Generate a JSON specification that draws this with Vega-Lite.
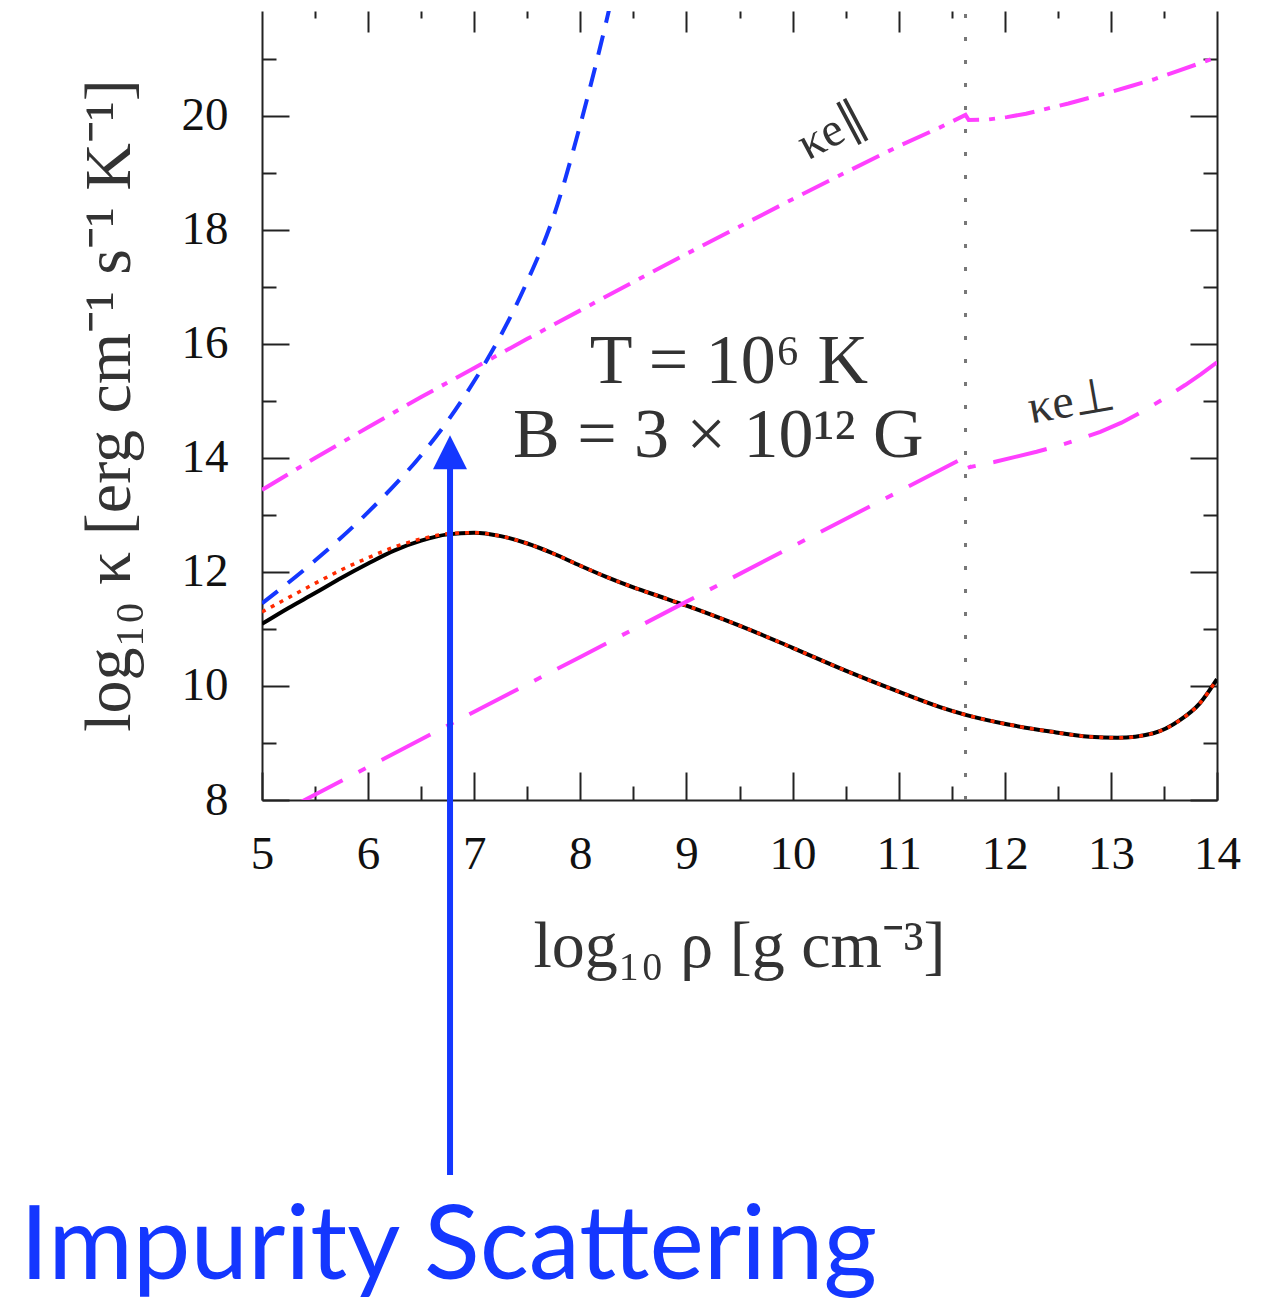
{
  "$schema": "https://vega.github.io/schema/vega-lite/v6.json",
  "width": 955,
  "height": 789,
  "autosize": "none",
  "padding": {"left": 262, "top": 11, "right": 54, "bottom": 504},
  "background": "white",
  "config": {
    "view": {"stroke": null},
    "axis": {"grid": false, "domainColor": "#222", "domainWidth": 2, "tickColor": "#222", "tickWidth": 2, "labelFont": "Liberation Serif", "titleFont": "Liberation Serif", "labelColor": "#111", "titleColor": "#333", "titleFontWeight": "normal"}
  },
  "datasets": {
    "total": [
      {"x": 5.0, "y": 11.09}, {"x": 5.25, "y": 11.37}, {"x": 5.5, "y": 11.63}, {"x": 5.75, "y": 11.9},
      {"x": 6.0, "y": 12.15}, {"x": 6.25, "y": 12.38}, {"x": 6.5, "y": 12.55}, {"x": 6.75, "y": 12.66},
      {"x": 7.0, "y": 12.69}, {"x": 7.25, "y": 12.63}, {"x": 7.5, "y": 12.5}, {"x": 7.75, "y": 12.32},
      {"x": 8.0, "y": 12.11}, {"x": 8.25, "y": 11.91}, {"x": 8.5, "y": 11.73}, {"x": 8.75, "y": 11.57},
      {"x": 9.0, "y": 11.41}, {"x": 9.25, "y": 11.24}, {"x": 9.5, "y": 11.06}, {"x": 10.0, "y": 10.67},
      {"x": 10.5, "y": 10.27}, {"x": 11.0, "y": 9.9}, {"x": 11.39, "y": 9.63}, {"x": 11.64, "y": 9.49},
      {"x": 12.02, "y": 9.33}, {"x": 12.43, "y": 9.2}, {"x": 12.8, "y": 9.11}, {"x": 13.06, "y": 9.09},
      {"x": 13.4, "y": 9.17}, {"x": 13.65, "y": 9.4}, {"x": 13.84, "y": 9.7}, {"x": 14.0, "y": 10.12}
    ],
    "red": [
      {"x": 5.0, "y": 11.3}, {"x": 5.25, "y": 11.55}, {"x": 5.5, "y": 11.8}, {"x": 5.75, "y": 12.04},
      {"x": 6.0, "y": 12.25}, {"x": 6.25, "y": 12.44}, {"x": 6.5, "y": 12.58}, {"x": 6.75, "y": 12.67},
      {"x": 7.0, "y": 12.69}, {"x": 7.25, "y": 12.63}, {"x": 7.5, "y": 12.5}, {"x": 7.75, "y": 12.32},
      {"x": 8.0, "y": 12.11}, {"x": 8.25, "y": 11.91}, {"x": 8.5, "y": 11.73}, {"x": 8.75, "y": 11.57},
      {"x": 9.0, "y": 11.41}, {"x": 9.25, "y": 11.24}, {"x": 9.5, "y": 11.06}, {"x": 10.0, "y": 10.67},
      {"x": 10.5, "y": 10.27}, {"x": 11.0, "y": 9.9}, {"x": 11.39, "y": 9.63}, {"x": 11.64, "y": 9.49},
      {"x": 12.02, "y": 9.33}, {"x": 12.43, "y": 9.2}, {"x": 12.8, "y": 9.11}, {"x": 13.06, "y": 9.09},
      {"x": 13.4, "y": 9.17}, {"x": 13.65, "y": 9.4}, {"x": 13.84, "y": 9.7}, {"x": 14.0, "y": 10.12}
    ],
    "blue": [
      {"x": 5.0, "y": 11.45}, {"x": 5.5, "y": 12.2}, {"x": 6.0, "y": 13.05}, {"x": 6.5, "y": 14.05},
      {"x": 6.75, "y": 14.65}, {"x": 7.0, "y": 15.35}, {"x": 7.25, "y": 16.15}, {"x": 7.5, "y": 17.1},
      {"x": 7.75, "y": 18.25}, {"x": 8.0, "y": 19.85}, {"x": 8.25, "y": 21.7}, {"x": 8.3, "y": 22.1}
    ],
    "kpar": [
      {"x": 5.0, "y": 13.44}, {"x": 5.5, "y": 14.0}, {"x": 6.0, "y": 14.54}, {"x": 6.5, "y": 15.07},
      {"x": 7.0, "y": 15.58}, {"x": 7.5, "y": 16.09}, {"x": 8.0, "y": 16.59}, {"x": 8.5, "y": 17.09},
      {"x": 9.0, "y": 17.58}, {"x": 9.5, "y": 18.06}, {"x": 10.0, "y": 18.54}, {"x": 10.5, "y": 19.01},
      {"x": 11.0, "y": 19.47}, {"x": 11.39, "y": 19.8}, {"x": 11.63, "y": 20.02}, {"x": 11.66, "y": 19.93},
      {"x": 11.85, "y": 19.94}, {"x": 12.02, "y": 19.98}, {"x": 12.2, "y": 20.04}, {"x": 12.4, "y": 20.13},
      {"x": 12.6, "y": 20.22}, {"x": 12.8, "y": 20.32}, {"x": 13.0, "y": 20.42}, {"x": 13.2, "y": 20.53},
      {"x": 13.4, "y": 20.64}, {"x": 13.6, "y": 20.77}, {"x": 13.8, "y": 20.9}, {"x": 14.0, "y": 21.03}
    ],
    "kperp": [
      {"x": 5.3, "y": 7.9}, {"x": 6.0, "y": 8.58}, {"x": 7.0, "y": 9.55}, {"x": 8.0, "y": 10.51},
      {"x": 9.0, "y": 11.48}, {"x": 10.0, "y": 12.45}, {"x": 11.0, "y": 13.41}, {"x": 11.63, "y": 14.02},
      {"x": 11.67, "y": 13.84}, {"x": 11.9, "y": 13.93}, {"x": 12.1, "y": 14.02}, {"x": 12.3, "y": 14.11},
      {"x": 12.5, "y": 14.21}, {"x": 12.7, "y": 14.33}, {"x": 12.9, "y": 14.46}, {"x": 13.1, "y": 14.62},
      {"x": 13.3, "y": 14.82}, {"x": 13.5, "y": 15.04}, {"x": 13.7, "y": 15.28}, {"x": 13.85, "y": 15.47},
      {"x": 14.0, "y": 15.68}
    ]
  },
  "resolve": {"axis": {"x": "independent", "y": "independent"}},
  "layer": [
    {
      "data": {"name": "total"},
      "mark": {"type": "line", "color": "#000", "strokeWidth": 4, "clip": true, "interpolate": "monotone"},
      "encoding": {
        "x": {"field": "x", "type": "quantitative", "scale": {"domain": [5, 14], "nice": false, "zero": false},
          "axis": {"orient": "bottom", "values": [5, 6, 7, 8, 9, 10, 11, 12, 13, 14], "ticks": false, "tickSize": 0, "domain": true, "labelFontSize": 47, "labelPadding": 31, "labelFlush": false, "title": "log₁₀ ρ [g cm⁻³]", "titleFontSize": 66, "titleX": 477, "titleY": 166, "titleAlign": "center", "titleBaseline": "alphabetic"}},
        "y": {"field": "y", "type": "quantitative", "scale": {"domain": [8, 21.842], "nice": false, "zero": false},
          "axis": {"orient": "left", "values": [8, 10, 12, 14, 16, 18, 20], "ticks": false, "tickSize": 0, "domain": true, "labelFontSize": 47, "labelPadding": 34, "labelFlush": false, "title": "log₁₀ κ [erg cm⁻¹ s⁻¹ K⁻¹]", "titleFontSize": 66, "titleX": -133, "titleY": 394, "titleAngle": -90, "titleAlign": "center", "titleBaseline": "alphabetic"}}
      }
    },
    {
      "data": {"name": "red"},
      "mark": {"type": "line", "color": "#ff2a00", "strokeWidth": 3.5, "strokeDash": [4, 6], "clip": true, "interpolate": "monotone"},
      "encoding": {
        "x": {"field": "x", "type": "quantitative", "scale": {"domain": [5, 14], "nice": false, "zero": false},
          "axis": {"orient": "bottom", "values": [5, 6, 7, 8, 9, 10, 11, 12, 13, 14], "labels": false, "domain": false, "tickSize": -28, "title": null}},
        "y": {"field": "y", "type": "quantitative", "scale": {"domain": [8, 21.842], "nice": false, "zero": false},
          "axis": {"orient": "left", "values": [8, 10, 12, 14, 16, 18, 20], "labels": false, "domain": false, "tickSize": -27, "title": null}}
      }
    },
    {
      "data": {"name": "blue"},
      "mark": {"type": "line", "color": "#1437ff", "strokeWidth": 4, "strokeDash": [20, 13], "clip": true, "interpolate": "monotone"},
      "encoding": {
        "x": {"field": "x", "type": "quantitative", "scale": {"domain": [5, 14], "nice": false, "zero": false},
          "axis": {"orient": "bottom", "values": [5.5, 6.5, 7.5, 8.5, 9.5, 10.5, 11.5, 12.5, 13.5], "labels": false, "domain": false, "tickSize": -14, "title": null}},
        "y": {"field": "y", "type": "quantitative", "scale": {"domain": [8, 21.842], "nice": false, "zero": false},
          "axis": {"orient": "left", "values": [9, 11, 13, 15, 17, 19, 21], "labels": false, "domain": false, "tickSize": -14, "title": null}}
      }
    },
    {
      "data": {"name": "kpar"},
      "mark": {"type": "line", "color": "#ff40ff", "strokeWidth": 4, "strokeDash": [30, 10, 6, 10], "clip": true},
      "encoding": {
        "x": {"field": "x", "type": "quantitative", "scale": {"domain": [5, 14], "nice": false, "zero": false},
          "axis": {"orient": "top", "values": [6, 7, 8, 9, 10, 11, 12, 13], "labels": false, "domain": false, "tickSize": -21, "title": null}},
        "y": {"field": "y", "type": "quantitative", "scale": {"domain": [8, 21.842], "nice": false, "zero": false},
          "axis": {"orient": "right", "values": [8, 10, 12, 14, 16, 18, 20], "labels": false, "domain": true, "tickSize": -27, "title": null}}
      }
    },
    {
      "data": {"name": "kperp"},
      "mark": {"type": "line", "color": "#ff40ff", "strokeWidth": 4, "strokeDash": [55, 18, 8, 18], "clip": true},
      "encoding": {
        "x": {"field": "x", "type": "quantitative", "scale": {"domain": [5, 14], "nice": false, "zero": false},
          "axis": {"orient": "top", "values": [5.5, 6.5, 7.5, 8.5, 9.5, 10.5, 11.5, 12.5, 13.5], "labels": false, "domain": false, "tickSize": -7, "title": null}},
        "y": {"field": "y", "type": "quantitative", "scale": {"domain": [8, 21.842], "nice": false, "zero": false},
          "axis": {"orient": "right", "values": [9, 11, 13, 15, 17, 19, 21], "labels": false, "domain": false, "tickSize": -14, "title": null}}
      }
    },
    {
      "data": {"values": [{"x": 11.63, "y": 8, "y2": 21.842}]},
      "mark": {"type": "rule", "color": "#777", "strokeWidth": 3, "strokeDash": [4, 19]},
      "encoding": {
        "x": {"field": "x", "type": "quantitative", "axis": null},
        "y": {"field": "y", "type": "quantitative", "axis": null},
        "y2": {"field": "y2"}
      }
    },
    {
      "data": {"values": [
        {"x": 9.40, "y": 15.32, "t": "T = 10⁶ K"},
        {"x": 9.30, "y": 14.02, "t": "B = 3 × 10¹² G"}
      ]},
      "mark": {"type": "text", "font": "Liberation Serif", "fontSize": 70, "color": "#333", "align": "center", "baseline": "alphabetic"},
      "encoding": {
        "x": {"field": "x", "type": "quantitative", "axis": null},
        "y": {"field": "y", "type": "quantitative", "axis": null},
        "text": {"field": "t"}
      }
    },
    {
      "data": {"values": [{"x": 10.37, "y": 19.72, "t": "κe∥"}]},
      "mark": {"type": "text", "font": "Liberation Serif", "fontSize": 48, "color": "#333", "align": "center", "baseline": "middle", "angle": -28},
      "encoding": {
        "x": {"field": "x", "type": "quantitative", "axis": null},
        "y": {"field": "y", "type": "quantitative", "axis": null},
        "text": {"field": "t"}
      }
    },
    {
      "data": {"values": [{"x": 12.63, "y": 14.98, "t": "κe⊥"}]},
      "mark": {"type": "text", "font": "Liberation Serif", "fontSize": 48, "color": "#333", "align": "center", "baseline": "middle", "angle": -10},
      "encoding": {
        "x": {"field": "x", "type": "quantitative", "axis": null},
        "y": {"field": "y", "type": "quantitative", "axis": null},
        "text": {"field": "t"}
      }
    },
    {
      "data": {"values": [{"x": 6.772, "y": 1.42, "y2": 13.85}]},
      "mark": {"type": "rule", "color": "#1437ff", "strokeWidth": 6},
      "encoding": {
        "x": {"field": "x", "type": "quantitative", "axis": null},
        "y": {"field": "y", "type": "quantitative", "axis": null},
        "y2": {"field": "y2"}
      }
    },
    {
      "data": {"values": [{"x": 6.772, "y": 14.1}]},
      "mark": {"type": "point", "shape": "M-1,1L0,-1L1,1Z", "filled": true, "color": "#1437ff", "opacity": 1, "size": 1156, "strokeWidth": 0},
      "encoding": {
        "x": {"field": "x", "type": "quantitative", "axis": null},
        "y": {"field": "y", "type": "quantitative", "axis": null}
      }
    },
    {
      "data": {"values": [{"x": 2.72, "y": -0.404, "t": "Impurity Scattering"}]},
      "mark": {"type": "text", "font": "Lato", "fontSize": 103, "color": "#1437ff", "align": "left", "baseline": "alphabetic"},
      "encoding": {
        "x": {"field": "x", "type": "quantitative", "axis": null},
        "y": {"field": "y", "type": "quantitative", "axis": null},
        "text": {"field": "t"}
      }
    }
  ]
}
